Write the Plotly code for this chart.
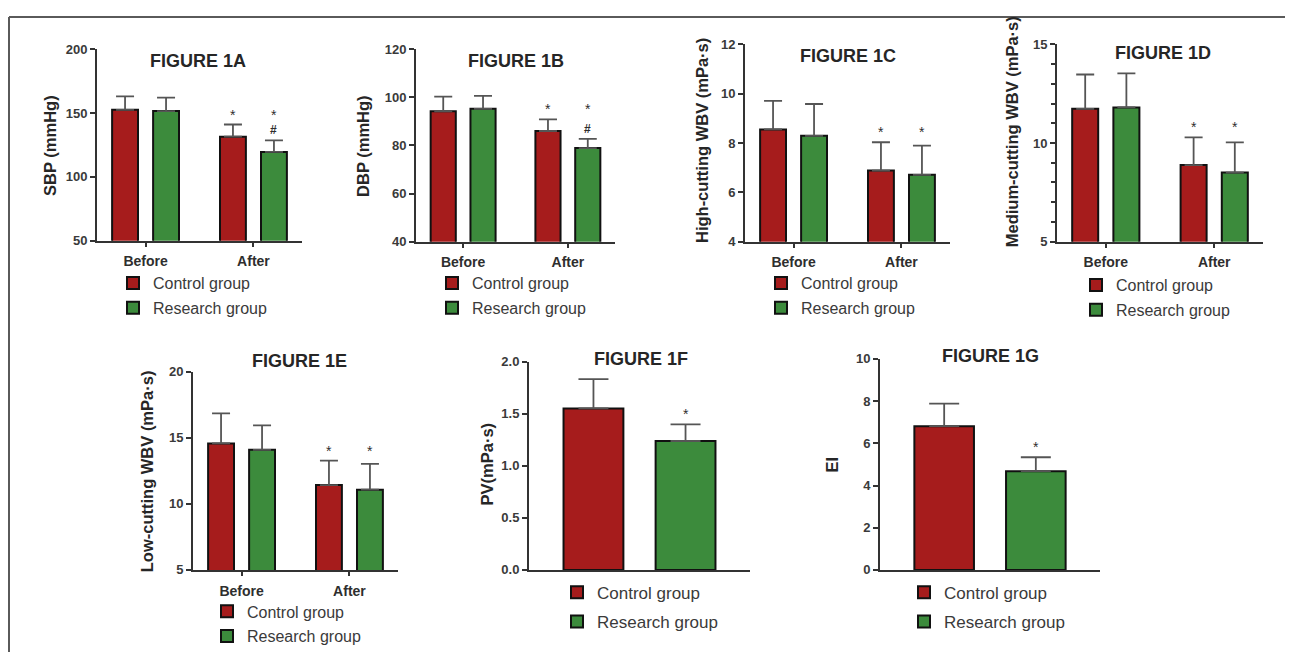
import plotly.graph_objects as go

# ---------------- data ----------------
groups = ["Before", "After"]
pair = ["Control group", "Research group"]

A_control = [152.5, 131.5]; A_control_sd = [10.5, 9.5]
A_research = [151.5, 119.5]; A_research_sd = [10.5, 9.0]
A_control_marks = ["", "*"]; A_research_marks = ["", "*#"]

B_control = [94.2, 86.0]; B_control_sd = [6.1, 4.8]
B_research = [95.2, 78.9]; B_research_sd = [5.4, 3.8]
B_control_marks = ["", "*"]; B_research_marks = ["", "*#"]

C_control = [8.55, 6.88]; C_control_sd = [1.16, 1.15]
C_research = [8.29, 6.71]; C_research_sd = [1.29, 1.18]
C_control_marks = ["", "*"]; C_research_marks = ["", "*"]

D_control = [11.73, 8.88]; D_control_sd = [1.74, 1.40]
D_research = [11.80, 8.50]; D_research_sd = [1.73, 1.53]
D_control_marks = ["", "*"]; D_research_marks = ["", "*"]

E_control = [14.57, 11.42]; E_control_sd = [2.27, 1.85]
E_research = [14.08, 11.07]; E_research_sd = [1.85, 1.95]
E_control_marks = ["", "*"]; E_research_marks = ["", "*"]

F_control = [1.552]; F_control_sd = [0.282]
F_research = [1.239]; F_research_sd = [0.160]
F_control_marks = [""]; F_research_marks = ["*"]

G_control = [6.81]; G_control_sd = [1.07]
G_research = [4.68]; G_research_sd = [0.66]
G_control_marks = [""]; G_research_marks = ["*"]

titles = ["FIGURE 1A", "FIGURE 1B", "FIGURE 1C", "FIGURE 1D", "FIGURE 1E", "FIGURE 1F", "FIGURE 1G"]
ytitles = ["SBP (mmHg)", "DBP (mmHg)", "High-cutting WBV (mPa·s)", "Medium-cutting WBV (mPa·s)",
           "Low-cutting WBV (mPa·s)", "PV(mPa·s)", "EI"]
yranges = [[50, 200], [40, 120], [4, 12], [5, 15], [5, 20], [0, 2], [0, 10]]
ydticks = [50, 20, 2, 5, 5, 0.5, 2]

# ---------------- page geometry ----------------
W, H = 1293, 668
OX, OY = 8, 8
FW, FH = W - 2 * OX, H - 2 * OY


def fx(px):
    return (px - OX) / FW


def fy(py):
    return 1 - (py - OY) / FH


RED = "#a61c1c"
GREEN = "#3c8b3c"
FONT = "Liberation Sans"
DARK = "#2e2e2e"

# panel styling: (axis box left,right,top,bottom), title center, y-title center, legend (left, top), legend font
styles = [
    dict(box=(97, 302, 43, 239), tpos=(198, 55), ypos=(50, 142), leg=(113, 265), lf=16),
    dict(box=(416, 615, 43, 240), tpos=(516, 55), ypos=(363, 143), leg=(432, 265), lf=16),
    dict(box=(745, 950, 38, 240), tpos=(848, 50), ypos=(702, 137), leg=(761, 265), lf=16),
    dict(box=(1057, 1263, 38, 240), tpos=(1163, 47), ypos=(1012, 128), leg=(1076, 267), lf=16),
    dict(box=(193, 398, 373, 576), tpos=(299, 362), ypos=(147, 475), leg=(207, 601), lf=16),
    dict(box=(529, 750, 363, 576), tpos=(641, 360), ypos=(487, 468), leg=(557, 581), lf=17),
    dict(box=(880, 1100, 360, 576), tpos=(990, 357), ypos=(832, 468), leg=(904, 581), lf=17),
]

data = [
    (A_control, A_control_sd, A_research, A_research_sd, A_control_marks, A_research_marks),
    (B_control, B_control_sd, B_research, B_research_sd, B_control_marks, B_research_marks),
    (C_control, C_control_sd, C_research, C_research_sd, C_control_marks, C_research_marks),
    (D_control, D_control_sd, D_research, D_research_sd, D_control_marks, D_research_marks),
    (E_control, E_control_sd, E_research, E_research_sd, E_control_marks, E_research_marks),
    (F_control, F_control_sd, F_research, F_research_sd, F_control_marks, F_research_marks),
    (G_control, G_control_sd, G_research, G_research_sd, G_control_marks, G_research_marks),
]

fig = go.Figure()
annotations = []
layout = {}

for i, (ctrl, ctrl_sd, res, res_sd, cm, rm) in enumerate(data):
    st = styles[i]
    sfx = "" if i == 0 else str(i + 1)
    xa, ya = "x" + sfx, "y" + sfx
    leg = "legend" + sfx
    grouped = len(ctrl) > 1
    if grouped:
        xc, xr = groups, groups
        off_c, off_r, bw = -0.31, 0.07, 0.24
        xrange = [-0.45, 1.45]
    else:
        xc, xr = [pair[0]], [pair[1]]
        off_c, off_r, bw = -0.325, -0.325, 0.65
        xrange = [-0.7, 1.7]
    err_w = 9 if grouped else 15
    for name, xs, ys, sd, col, off, lg in [
        (pair[0], xc, ctrl, ctrl_sd, RED, off_c, "c"),
        (pair[1], xr, res, res_sd, GREEN, off_r, "r"),
    ]:
        fig.add_trace(go.Bar(
            x=xs, y=ys, name=name, xaxis=xa, yaxis=ya, legend=leg,
            legendgroup=f"{lg}{i}",
            offset=off, width=bw,
            marker=dict(color=col, line=dict(color="#111111", width=2)),
            error_y=dict(type="data", symmetric=False, array=sd, arrayminus=[0] * len(sd),
                         color="#555555", thickness=1.8, width=err_w),
            hoverinfo="skip",
        ))
    # significance marks
    for k in range(len(ctrl)):
        tops_c = ctrl[k] + ctrl_sd[k]
        tops_r = res[k] + res_sd[k]
        star_y = max(tops_c, tops_r)
        for marks, top, off, xi in [(cm[k], tops_c, off_c, k if grouped else 0),
                                    (rm[k], tops_r, off_r, k if grouped else 1)]:
            cx = xi + off + bw / 2
            if "*" in marks:
                annotations.append(dict(
                    x=cx, y=star_y if grouped else top, xref=xa, yref=ya,
                    text="*", showarrow=False, yanchor="middle", yshift=10,
                    font=dict(family=FONT, size=14, color=DARK)))
            if "#" in marks:
                annotations.append(dict(
                    x=cx, y=top, xref=xa, yref=ya,
                    text="#", showarrow=False, yanchor="middle", yshift=10,
                    font=dict(family=FONT, size=12, color=DARK, weight="bold")))

    l, r, t, b = st["box"]
    xaxis = dict(domain=[fx(l), fx(r)], anchor=ya, type="category",
                 categoryorder="array", categoryarray=groups if grouped else pair,
                 range=xrange, showline=True, linecolor="#333333", linewidth=2,
                 showgrid=False, zeroline=False, fixedrange=True,
                 ticks="outside" if grouped else "", ticklen=4, tickwidth=1.5, tickcolor="#333333",
                 showticklabels=grouped, ticklabelstandoff=3,
                 tickfont=dict(family=FONT, size=14, color=DARK, weight="bold"))
    yaxis = dict(domain=[fy(b), fy(t)], anchor=xa, range=yranges[i], dtick=ydticks[i],
                 tick0=yranges[i][0],
                 showline=True, linecolor="#333333", linewidth=2, showgrid=False,
                 zeroline=False, fixedrange=True, ticks="outside", ticklen=5, tickwidth=1.8,
                 tickcolor="#333333",
                 tickfont=dict(family=FONT, size=13, color="#3a3a3a", weight="bold"))
    if i == 5:
        yaxis["tickformat"] = ".1f"
    if i == 3:
        yaxis["minor"] = dict(dtick=1, ticks="outside", ticklen=4, tickwidth=1.5,
                              tickcolor="#333333", showgrid=False)
    layout["xaxis" + sfx] = xaxis
    layout["yaxis" + sfx] = yaxis

    lx, ly = st["leg"]
    layout[leg] = dict(x=fx(lx), y=fy(ly), xanchor="left", yanchor="top",
                       bgcolor="rgba(0,0,0,0)", borderwidth=0,
                       font=dict(family=FONT, size=st["lf"], color="#3a3a3a"),
                       tracegroupgap=1 if st["lf"] == 16 else 4, itemclick=False,
                       itemdoubleclick=False)

    tx, ty = st["tpos"]
    annotations.append(dict(x=fx(tx), y=fy(ty), xref="paper", yref="paper", text=titles[i],
                            showarrow=False, xanchor="center", yanchor="middle",
                            font=dict(family=FONT, size=18, color="#262626", weight="bold")))
    yx, yy = st["ypos"]
    annotations.append(dict(x=fx(yx), y=fy(yy), xref="paper", yref="paper", text=ytitles[i],
                            showarrow=False, xanchor="center", yanchor="middle", textangle=-90,
                            font=dict(family=FONT, size=16.5, color="#262626", weight="bold")))

# outer frame (left, top, right edges)
shapes = [
    dict(type="line", xref="paper", yref="paper", x0=fx(9), x1=fx(9), y0=fy(10), y1=0,
         line=dict(color="#5a5a5a", width=2)),
    dict(type="line", xref="paper", yref="paper", x0=fx(9), x1=fx(1289), y0=fy(10), y1=fy(10),
         line=dict(color="#5a5a5a", width=2)),
    dict(type="line", xref="paper", yref="paper", x0=fx(1289), x1=fx(1289), y0=fy(10), y1=0,
         line=dict(color="#5a5a5a", width=2)),
]

fig.update_layout(
    width=FW, height=FH, margin=dict(l=0, r=0, t=0, b=0),
    paper_bgcolor="white", plot_bgcolor="white",
    barmode="overlay", showlegend=True, hovermode=False,
    annotations=annotations, shapes=shapes,
    **layout,
)

fig.write_html("out.html")
